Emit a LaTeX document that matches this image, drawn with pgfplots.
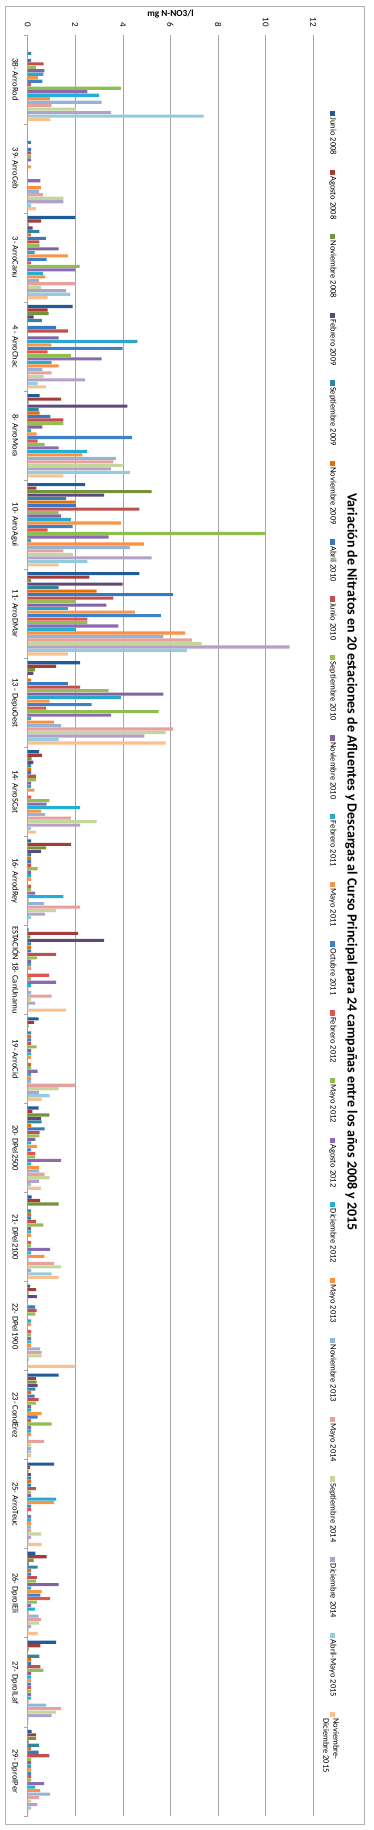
\documentclass[border=0pt]{standalone}
\usepackage{pgfplots}
\pgfplotsset{compat=1.18}
\usepackage{pgfplotstable}
\usepackage{graphicx}
\usepackage{fontspec}
\setmainfont{Carlito}

\definecolor{col1}{HTML}{1F5C99}
\definecolor{col2}{HTML}{A33B38}
\definecolor{col3}{HTML}{76923C}
\definecolor{col4}{HTML}{5F497A}
\definecolor{col5}{HTML}{31859C}
\definecolor{col6}{HTML}{E46C0A}
\definecolor{col7}{HTML}{3778BE}
\definecolor{col8}{HTML}{C0504D}
\definecolor{col9}{HTML}{9BBB59}
\definecolor{col10}{HTML}{8064A2}
\definecolor{col11}{HTML}{2AA7C9}
\definecolor{col12}{HTML}{F79646}
\definecolor{col13}{HTML}{3D81C7}
\definecolor{col14}{HTML}{DE5551}
\definecolor{col15}{HTML}{8FBE4F}
\definecolor{col16}{HTML}{8A6AB0}
\definecolor{col17}{HTML}{1FB0D3}
\definecolor{col18}{HTML}{FF8F3F}
\definecolor{col19}{HTML}{95B3D7}
\definecolor{col20}{HTML}{E6A09E}
\definecolor{col21}{HTML}{C3D69B}
\definecolor{col22}{HTML}{B3A2C7}
\definecolor{col23}{HTML}{93CDDD}
\definecolor{col24}{HTML}{FAC090}

\pgfplotstableread{
x c1 c2 c3 c4 c5 c6 c7 c8 c9 c10 c11 c12 c13 c14 c15 c16 c17 c18 c19 c20 c21 c22 c23 c24
0 0 0 0 0 0.14 0 0.14 0.67 0.34 0.70 0.66 0.43 0.62 0.14 3.91 2.51 3.00 0.94 3.11 1.01 2.02 3.50 7.39 0.95
1 0 0 0 0 0.14 0 0.14 0.14 0.14 0.14 0 0.14 0 0 0 0.53 0 0.55 0.48 0.64 1.50 1.50 0.14 0.34
2 2.00 0.56 0.04 0.21 0.49 0.13 0.76 0.49 0.50 1.30 0.29 1.69 0.80 0.14 2.18 2.00 0.64 0.73 0.48 2.00 0.56 1.60 1.79 0.84
3 1.89 0.84 0.88 0.25 0.60 0 1.18 1.69 0 1.30 4.61 0.99 3.99 0.84 1.81 3.11 1.01 1.30 0.62 1.01 0.67 2.41 0.42 0.76
4 0.50 1.40 0.04 4.19 0.46 0.50 0.95 1.50 1.50 0.62 0.13 0.38 4.38 0.42 0.71 1.30 2.49 2.30 3.70 3.60 3.99 3.50 4.29 1.50
5 2.41 0.36 5.21 3.21 1.61 2.00 2.02 4.69 1.30 1.40 1.81 3.91 1.89 0.84 10.0 3.40 0.14 4.89 4.29 1.50 1.90 5.21 2.51 1.30
6 4.69 2.59 0.14 3.99 1.30 2.90 6.11 3.60 2.02 3.31 1.69 4.50 5.60 2.51 2.51 3.81 2.02 6.61 5.70 6.90 7.31 11.0 6.69 1.69
7 2.20 1.19 0.31 0.24 0 0.14 1.69 2.20 3.40 5.70 3.91 0.92 2.69 0.77 5.50 3.50 0.14 1.11 1.40 6.11 5.80 4.90 1.30 5.80
8 0.48 0.60 0.17 0.24 0.14 0.14 0.14 0.35 0.35 0.14 0.14 0.28 0 0.14 0.91 0.80 2.20 0.56 0.73 1.81 2.90 2.20 0.14 0.34
9 0.14 1.81 0.77 0.56 0.14 0.14 0.14 0.14 0.42 0.14 0.14 0.14 0 0.14 0.14 0.31 1.50 0.04 0.69 2.20 1.19 0.73 0.14 0.04
10 0.04 2.11 0.11 3.21 0.14 0.14 0.14 1.19 0.39 0.14 0.14 0.14 0 0.90 0.14 1.19 0.14 0.03 0.14 1.01 0.14 0.31 0.04 1.60
11 0.46 0.27 0.04 0 0.14 0.14 0.14 0.14 0.38 0.14 0.14 0.14 0 0.14 0.14 0.42 0.14 0.14 0.14 2.00 1.30 0.48 0.92 0.59
12 0.46 0.20 0.91 0.56 0.59 0.14 0.71 0.50 0.49 0.32 0.14 0.39 0.14 0.32 0.31 1.40 0.14 0.48 0.48 0.71 0.92 0.48 0.14 0.56
13 0.17 0.52 1.30 0 0.14 0.14 0.14 0.35 0.66 0.14 0.14 0.14 0 0.14 0.14 0.94 0.14 0.70 0.04 1.11 1.40 0.14 1.01 1.30
14 0.10 0.35 0.04 0.39 0 0 0.31 0.38 0.32 0 0.14 0.14 0 0.14 0.14 0.14 0.14 0.14 0.52 0.59 0.59 0.04 0 2.00
15 1.30 0.35 0.38 0.42 0.32 0.14 0.29 0.46 0.34 0.14 0.14 0.59 0.42 0.14 1.01 0.14 0.14 0.14 0.04 0.69 0.14 0.14 0.14 0.14
16 1.11 0.10 0.04 0.13 0.14 0.14 0.14 0.34 0.14 0.14 1.19 1.11 0.14 0.14 0 0.14 0.14 0.14 0.14 0.14 0.56 0.14 0.04 0.59
17 0.32 0.80 0.25 0.04 0.42 0.14 0.14 0.39 0.34 1.30 0.14 0.59 0.53 0.94 0.39 0.14 0.31 0.04 0.46 0.56 0.48 0.14 0.04 0.42
18 1.19 0.53 0.04 0 0.49 0.14 0.14 0.53 0.66 0.14 0.14 0.14 0.14 0.14 0.14 0.14 0.14 0.04 0.77 1.40 1.19 1.01 0.04 0.04
19 0.17 0.35 0.35 0.04 0.48 0.14 0.46 0.91 0.14 0.14 0.14 0.14 0.14 0.14 0.14 0.69 0.31 0.52 0.94 0.48 0.14 0.41 0.14 0.04
}\datatable

\begin{document}
\rotatebox{-90}{%
\begin{tikzpicture}
\useasboundingbox (-35pt,-27.7pt) rectangle (1795pt,345.3pt);
\draw[gray!60, line width=0.8pt] (-29pt,-22pt) rectangle (1789pt,336.6pt);
\begin{axis}[
  scale only axis, width=1781pt, height=285.6pt,
  xmin=-0.5, xmax=19.5, ymin=0, ymax=12,
  ybar=0.39pt, bar width=3.1pt,
  axis lines*=left,
  x axis line style={gray!70, line width=0.8pt},
  y axis line style={draw=none},
  ytick={0,2,4,6,8,10,12},
  ymajorgrids, grid style={gray!70, line width=0.8pt},
  xtick={0,...,19},
  xticklabels={3B- ArroRod,39- ArroCeb,3- ArroCanu,4 - ArroChac,8- ArroMora,10- ArroAgui,11- ArroDMar,13 - DepuOest,14- ArroSCat,16- ArrodRey,ESTACIÓN 18- CanUnamu\hspace{36pt},19- ArroCid,20- DPeI2500,21- DPeI2100,22- DPeI1900,23- CondErez,25- ArroTeuc,26- DproIEli,27- DproILaf,29- DproIPer},
  minor xtick={-0.5,0.5,...,19.5},
  xtick align=outside,
  major tick length=0pt, minor tick length=4pt,
  minor x tick style={gray!70, line width=0.8pt},
  /pgf/number format/assume math mode=true,
  yticklabel style={font=\fontsize{9}{10}\selectfont, xshift=-4.7pt},
  xticklabel style={font=\fontsize{8.5}{10}\selectfont, anchor=base, yshift=-15.2pt},
  ylabel={mg N-NO3/l},
  ylabel style={font=\bfseries\fontsize{9.3}{11}\selectfont, at={(axis description cs:-0.0119,0.5)}, anchor=center},
  title={Variación de Nitratos en 20 estaciones de Afluentes y Descargas al Curso Principal para 24 campañas entre los años 2008 y 2015},
  title style={font=\bfseries\fontsize{14}{16}\selectfont, at={(axis description cs:0.4644,1.0994)}, anchor=base},
  legend columns=-1,
  legend image code/.code={\fill[#1, draw=none] (0pt,-2.7pt) rectangle (5.4pt,2.7pt);},
  legend style={at={(axis description cs:0.0425,1.068)}, anchor=west, draw=none, fill=none, inner sep=0pt,
    font=\fontsize{8.5}{10}\selectfont, nodes={inner sep=1.5pt},
    /tikz/every even column/.append style={column sep=13pt}},
]
\addplot[fill=col1, draw=none] table[x=x, y=c1]{\datatable};
\addplot[fill=col2, draw=none] table[x=x, y=c2]{\datatable};
\addplot[fill=col3, draw=none] table[x=x, y=c3]{\datatable};
\addplot[fill=col4, draw=none] table[x=x, y=c4]{\datatable};
\addplot[fill=col5, draw=none] table[x=x, y=c5]{\datatable};
\addplot[fill=col6, draw=none] table[x=x, y=c6]{\datatable};
\addplot[fill=col7, draw=none] table[x=x, y=c7]{\datatable};
\addplot[fill=col8, draw=none] table[x=x, y=c8]{\datatable};
\addplot[fill=col9, draw=none] table[x=x, y=c9]{\datatable};
\addplot[fill=col10, draw=none] table[x=x, y=c10]{\datatable};
\addplot[fill=col11, draw=none] table[x=x, y=c11]{\datatable};
\addplot[fill=col12, draw=none] table[x=x, y=c12]{\datatable};
\addplot[fill=col13, draw=none] table[x=x, y=c13]{\datatable};
\addplot[fill=col14, draw=none] table[x=x, y=c14]{\datatable};
\addplot[fill=col15, draw=none] table[x=x, y=c15]{\datatable};
\addplot[fill=col16, draw=none] table[x=x, y=c16]{\datatable};
\addplot[fill=col17, draw=none] table[x=x, y=c17]{\datatable};
\addplot[fill=col18, draw=none] table[x=x, y=c18]{\datatable};
\addplot[fill=col19, draw=none] table[x=x, y=c19]{\datatable};
\addplot[fill=col20, draw=none] table[x=x, y=c20]{\datatable};
\addplot[fill=col21, draw=none] table[x=x, y=c21]{\datatable};
\addplot[fill=col22, draw=none] table[x=x, y=c22]{\datatable};
\addplot[fill=col23, draw=none] table[x=x, y=c23]{\datatable};
\addplot[fill=col24, draw=none] table[x=x, y=c24]{\datatable};
\legend{Junio 2008,Agosto 2008,Noviembre 2008,Febrero 2009,Septiembre 2009,Noviembre 2009,Abril 2010,Junio 2010,Septiembre 2010,Noviembre 2010,Febrero 2011,Mayo 2011,Octubre 2011,Febrero 2012,Mayo 2012,Agosto 2012,Diciembre 2012,Mayo 2013,Noviembre 2013,Mayo 2014,Septiembre 2014,Diciembre 2014,Abril-Mayo 2015,{\smash{\begin{tabular}[t]{@{}l@{}}Noviembre-\\Diciembre 2015\end{tabular}}}}
\draw[gray!70, line width=0.8pt] (rel axis cs:1,0) -- (rel axis cs:1,1);
\end{axis}
\end{tikzpicture}}
\end{document}
